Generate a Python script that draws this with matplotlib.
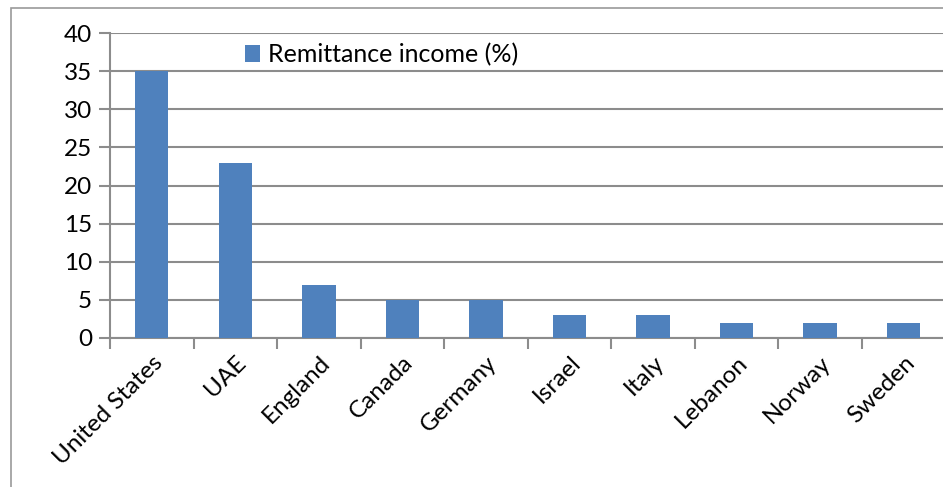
import matplotlib.pyplot as plt
from matplotlib.patches import Rectangle

countries = ['United States', 'UAE', 'England', 'Canada', 'Germany',
             'Israel', 'Italy', 'Lebanon', 'Norway', 'Sweden']
remittance = [35, 23, 7, 5, 5, 3, 3, 2, 2, 2]

plt.rcParams['font.family'] = ['Lato', 'DejaVu Sans']

fig = plt.figure(figsize=(9.43, 4.87), dpi=100)
ax = fig.add_axes([0.1166, 0.306, 0.886, 0.626])

grey = '#8c8c8c'
x = range(len(countries))
ax.bar(x, remittance, width=0.4, color='#4f81bd', label='Remittance income (%)',
       zorder=3)

ax.set_xlim(-0.5, len(countries) - 0.5)
ax.set_ylim(0, 40)
ax.set_yticks(range(0, 41, 5))
ax.set_xticks([i - 0.5 for i in range(len(countries) + 1)], minor=False)
ax.set_xticklabels([])
ax.set_xticks(list(x), minor=True)
ax.set_xticklabels(countries, minor=True, rotation=45, ha='right',
                   rotation_mode='anchor', fontsize=17.5)
ax.tick_params(axis='x', which='minor', length=0, pad=10)
ax.tick_params(axis='x', which='major', length=8, width=1.5, color=grey)
ax.tick_params(axis='y', length=8, width=1.5, color=grey, labelsize=17.5, pad=5)

ax.grid(axis='y', color=grey, linewidth=1.5, zorder=0)
for s in ['top', 'right']:
    ax.spines[s].set_visible(False)
for s in ['left', 'bottom']:
    ax.spines[s].set_color(grey)
    ax.spines[s].set_linewidth(1.5)

leg = ax.legend(loc='upper left', bbox_to_anchor=(0.15, 1.0), frameon=False,
                fontsize=18, handlelength=0.6, handleheight=0.7,
                handletextpad=0.3, borderaxespad=0)

# chart frame
fig.patches.append(Rectangle((0.012, -0.1), 1.1, 1.083, transform=fig.transFigure,
                             fill=False, edgecolor='#9a9a9a', linewidth=1.2))

plt.savefig('out.png', dpi=100)
